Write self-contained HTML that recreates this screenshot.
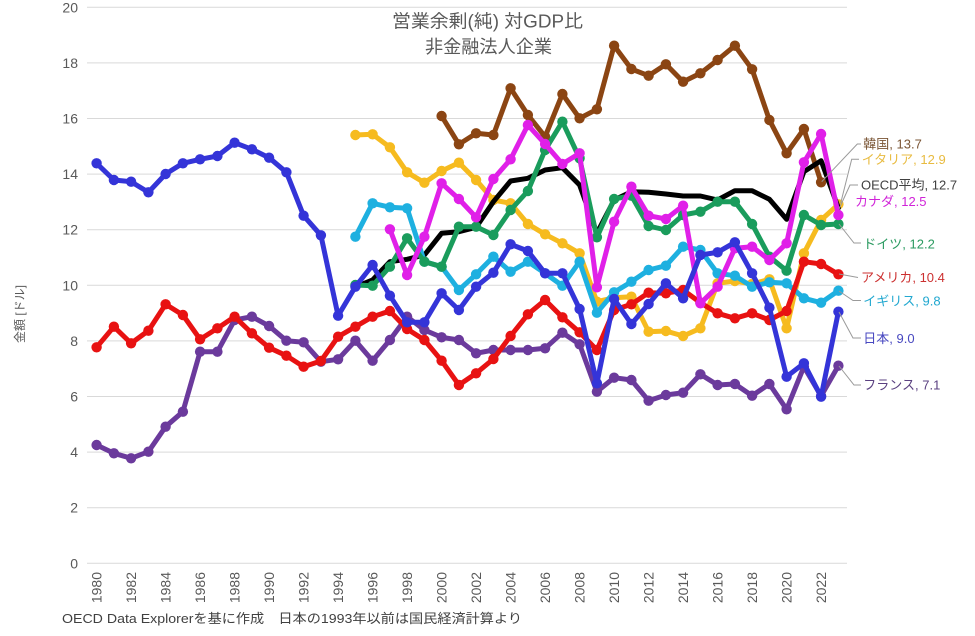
<!DOCTYPE html>
<html><head><meta charset="utf-8">
<style>
html,body{margin:0;padding:0;background:#fff;}
svg{display:block;}
text{font-family:"Liberation Sans","Noto Sans CJK JP",sans-serif;}
</style></head>
<body>
<svg width="975" height="636" viewBox="0 0 975 636" xmlns="http://www.w3.org/2000/svg">
<defs>
<marker id="mJ" markerWidth="12" markerHeight="12" refX="6" refY="6" markerUnits="userSpaceOnUse"><circle cx="6" cy="6" r="5.2" fill="#3434d8"/></marker>
<marker id="mU" markerWidth="12" markerHeight="12" refX="6" refY="6" markerUnits="userSpaceOnUse"><circle cx="6" cy="6" r="5.2" fill="#e81212"/></marker>
<marker id="mF" markerWidth="12" markerHeight="12" refX="6" refY="6" markerUnits="userSpaceOnUse"><circle cx="6" cy="6" r="5.2" fill="#6b3a9c"/></marker>
<marker id="mK" markerWidth="12" markerHeight="12" refX="6" refY="6" markerUnits="userSpaceOnUse"><circle cx="6" cy="6" r="5.2" fill="#8b4513"/></marker>
<marker id="mI" markerWidth="12" markerHeight="12" refX="6" refY="6" markerUnits="userSpaceOnUse"><circle cx="6" cy="6" r="5.2" fill="#f6bb1f"/></marker>
<marker id="mC" markerWidth="12" markerHeight="12" refX="6" refY="6" markerUnits="userSpaceOnUse"><circle cx="6" cy="6" r="5.2" fill="#e020e8"/></marker>
<marker id="mB" markerWidth="12" markerHeight="12" refX="6" refY="6" markerUnits="userSpaceOnUse"><circle cx="6" cy="6" r="5.2" fill="#1eb0e0"/></marker>
<marker id="mG" markerWidth="12" markerHeight="12" refX="6" refY="6" markerUnits="userSpaceOnUse"><circle cx="6" cy="6" r="5.2" fill="#1a9c5c"/></marker>
</defs>
<rect x="0" y="0" width="975" height="636" fill="#fff"/>

<!-- gridlines -->
<g stroke="#d9d9d9" stroke-width="1">
<line x1="87" y1="7.3" x2="847" y2="7.3"/>
<line x1="87" y1="62.9" x2="847" y2="62.9"/>
<line x1="87" y1="118.5" x2="847" y2="118.5"/>
<line x1="87" y1="174.1" x2="847" y2="174.1"/>
<line x1="87" y1="229.7" x2="847" y2="229.7"/>
<line x1="87" y1="285.3" x2="847" y2="285.3"/>
<line x1="87" y1="340.9" x2="847" y2="340.9"/>
<line x1="87" y1="396.5" x2="847" y2="396.5"/>
<line x1="87" y1="452.1" x2="847" y2="452.1"/>
<line x1="87" y1="507.7" x2="847" y2="507.7"/>
<line x1="87" y1="563.3" x2="847" y2="563.3"/>
</g>

<!-- y labels -->
<g font-size="14" fill="#595959" text-anchor="end">
<text x="78" y="12.3">20</text>
<text x="78" y="67.9">18</text>
<text x="78" y="123.5">16</text>
<text x="78" y="179.1">14</text>
<text x="78" y="234.7">12</text>
<text x="78" y="290.3">10</text>
<text x="78" y="345.9">8</text>
<text x="78" y="401.5">6</text>
<text x="78" y="457.1">4</text>
<text x="78" y="512.7">2</text>
<text x="78" y="568.3">0</text>
</g>
<text transform="translate(24,314) rotate(-90)" text-anchor="middle" font-size="12" fill="#595959">金額 [ドル]</text>

<!-- x labels -->
<g font-size="14" fill="#595959" text-anchor="end">
<text transform="translate(101.6,572) rotate(-90)">1980</text>
<text transform="translate(136.1,572) rotate(-90)">1982</text>
<text transform="translate(170.6,572) rotate(-90)">1984</text>
<text transform="translate(205.1,572) rotate(-90)">1986</text>
<text transform="translate(239.6,572) rotate(-90)">1988</text>
<text transform="translate(274.1,572) rotate(-90)">1990</text>
<text transform="translate(308.6,572) rotate(-90)">1992</text>
<text transform="translate(343.1,572) rotate(-90)">1994</text>
<text transform="translate(377.6,572) rotate(-90)">1996</text>
<text transform="translate(412.1,572) rotate(-90)">1998</text>
<text transform="translate(446.6,572) rotate(-90)">2000</text>
<text transform="translate(481.1,572) rotate(-90)">2002</text>
<text transform="translate(515.6,572) rotate(-90)">2004</text>
<text transform="translate(550.1,572) rotate(-90)">2006</text>
<text transform="translate(584.6,572) rotate(-90)">2008</text>
<text transform="translate(619.1,572) rotate(-90)">2010</text>
<text transform="translate(653.6,572) rotate(-90)">2012</text>
<text transform="translate(688.1,572) rotate(-90)">2014</text>
<text transform="translate(722.6,572) rotate(-90)">2016</text>
<text transform="translate(757.1,572) rotate(-90)">2018</text>
<text transform="translate(791.6,572) rotate(-90)">2020</text>
<text transform="translate(826.1,572) rotate(-90)">2022</text>
</g>

<!-- title -->
<text x="392" y="27.5" font-size="18" fill="#595959" textLength="191" lengthAdjust="spacingAndGlyphs">営業余剰(純) 対GDP比</text>
<text x="425" y="53" font-size="18" fill="#595959" textLength="127" lengthAdjust="spacingAndGlyphs">非金融法人企業</text>

<!-- footer -->
<text x="62" y="623" font-size="13" fill="#404040" textLength="460" lengthAdjust="spacingAndGlyphs">OECD Data Explorerを基に作成　日本の1993年以前は国民経済計算より</text>

<g fill="none" stroke-width="5" stroke-linejoin="round" stroke-linecap="round">
<!-- Korea -->
<polyline stroke="#8b4513" marker-start="url(#mK)" marker-mid="url(#mK)" marker-end="url(#mK)" points="441.6,116 458.9,144.3 476.1,133.3 493.4,135 510.6,88.3 527.9,115 545.1,136.7 562.4,94 579.6,118.3 596.9,109.3 614.1,45.7 631.4,69 648.6,75.7 665.9,64.3 683.1,81.7 700.4,73.3 717.6,60 734.9,45.7 752.1,69.3 769.4,120 786.6,153.3 803.9,129 821.1,182.3"/>
<!-- Italy -->
<polyline stroke="#f6bb1f" marker-start="url(#mI)" marker-mid="url(#mI)" marker-end="url(#mI)" points="355.4,135 372.6,134.3 389.9,147.3 407.1,172.3 424.4,182.7 441.6,171 458.9,162.7 476.1,180 493.4,200 510.6,203.3 527.9,224 545.1,234.3 562.4,243.3 579.6,253.3 596.9,301.7 614.1,297.7 631.4,296.7 648.6,331.7 665.9,331 683.1,336 700.4,328.3 717.6,283.3 734.9,281 752.1,284 769.4,279.3 786.6,328.3 803.9,253.3 821.1,220 838.4,204.3"/>
<!-- OECD -->
<polyline stroke="#000" points="355.4,287 372.6,280 389.9,261.7 407.1,259.3 424.4,255 441.6,233.3 458.9,231.7 476.1,227.3 493.4,201.7 510.6,181 527.9,178.3 545.1,170 562.4,167.7 579.6,185 596.9,233.3 614.1,200 631.4,191.7 648.6,192.3 665.9,194 683.1,196 700.4,196 717.6,200 734.9,190.7 752.1,190.7 769.4,199.3 786.6,219.3 803.9,171.7 821.1,160.7 838.4,208"/>
<!-- UK -->
<polyline stroke="#1eb0e0" marker-start="url(#mB)" marker-mid="url(#mB)" marker-end="url(#mB)" points="355.4,236.7 372.6,203.3 389.9,207.3 407.1,208.3 424.4,261.7 441.6,266.7 458.9,290 476.1,274.3 493.4,256.7 510.6,271.7 527.9,261.7 545.1,273.3 562.4,285.7 579.6,261.7 596.9,312.7 614.1,292.3 631.4,281.7 648.6,270 665.9,265.7 683.1,246.7 700.4,250 717.6,273.3 734.9,275.7 752.1,286.7 769.4,282.3 786.6,283.3 803.9,298.3 821.1,302.7 838.4,290.7"/>
<!-- France -->
<polyline stroke="#6b3a9c" marker-start="url(#mF)" marker-mid="url(#mF)" marker-end="url(#mF)" points="96.6,445 113.9,453.3 131.1,458.3 148.4,451.7 165.6,426.7 182.9,411.7 200.1,351.7 217.4,351.7 234.6,320 251.9,316.7 269.1,326 286.4,340.7 303.6,342.3 320.9,361.7 338.1,359.3 355.4,340.7 372.6,360.7 389.9,340 407.1,316.7 424.4,330 441.6,337.3 458.9,340 476.1,353.3 493.4,350 510.6,350 527.9,350 545.1,348.3 562.4,332.7 579.6,344.3 596.9,391.7 614.1,377.7 631.4,380 648.6,400.7 665.9,395 683.1,392.7 700.4,374.3 717.6,385 734.9,384 752.1,395.7 769.4,384 786.6,409.3 803.9,366.7 821.1,396 838.4,365.7"/>
<!-- USA -->
<polyline stroke="#e81212" marker-start="url(#mU)" marker-mid="url(#mU)" marker-end="url(#mU)" points="96.6,347.3 113.9,326.7 131.1,343.3 148.4,330.7 165.6,304.3 182.9,315 200.1,339.3 217.4,328.3 234.6,316.7 251.9,333.3 269.1,347.7 286.4,355.7 303.6,366.7 320.9,361 338.1,336.7 355.4,326.7 372.6,316.7 389.9,311 407.1,329 424.4,340 441.6,360.7 458.9,385 476.1,373.3 493.4,359 510.6,336 527.9,314.3 545.1,300 562.4,317.3 579.6,332.3 596.9,350 614.1,310 631.4,304.3 648.6,292.7 665.9,293.3 683.1,290 700.4,302.7 717.6,313.3 734.9,318.3 752.1,313.3 769.4,320 786.6,311 803.9,261.7 821.1,264 838.4,274.3"/>
<!-- Germany -->
<polyline stroke="#1a9c5c" marker-start="url(#mG)" marker-mid="url(#mG)" marker-end="url(#mG)" points="355.4,285 372.6,285.7 389.9,266.7 407.1,238.3 424.4,261.7 441.6,266.7 458.9,226.7 476.1,226.7 493.4,235 510.6,210 527.9,191 545.1,150 562.4,121.7 579.6,158.3 596.9,237.3 614.1,199 631.4,195.7 648.6,226 665.9,230 683.1,215 700.4,211.7 717.6,201.7 734.9,201.7 752.1,224 769.4,256.7 786.6,270.7 803.9,215 821.1,225 838.4,224"/>
<!-- Canada -->
<polyline stroke="#e020e8" marker-start="url(#mC)" marker-mid="url(#mC)" marker-end="url(#mC)" points="389.9,229.3 407.1,275 424.4,236.7 441.6,183.3 458.9,199 476.1,217.3 493.4,179 510.6,159.3 527.9,125 545.1,144 562.4,164 579.6,153.3 596.9,287.3 614.1,221.7 631.4,186.7 648.6,215.7 665.9,219 683.1,205.7 700.4,303.3 717.6,286.7 734.9,248.3 752.1,246.7 769.4,260 786.6,243.3 803.9,162.3 821.1,134 838.4,215"/>
<!-- Japan -->
<polyline stroke="#3434d8" marker-start="url(#mJ)" marker-mid="url(#mJ)" marker-end="url(#mJ)" points="96.6,163.3 113.9,180 131.1,181.7 148.4,192.3 165.6,174 182.9,163.3 200.1,159.3 217.4,156 234.6,142.7 251.9,149.3 269.1,157.7 286.4,172.3 303.6,215.7 320.9,235.3 338.1,315.7 355.4,286.7 372.6,265 389.9,295.7 407.1,322.3 424.4,322.3 441.6,293.3 458.9,310 476.1,286.7 493.4,272.7 510.6,244.3 527.9,251 545.1,273.3 562.4,273.3 579.6,309 596.9,383.3 614.1,299 631.4,324 648.6,304 665.9,283.3 683.1,298.3 700.4,255 717.6,252.3 734.9,242.3 752.1,273.3 769.4,307.7 786.6,376.7 803.9,363.3 821.1,396.7 838.4,311.7"/>
</g>

<!-- leader lines -->
<g fill="none" stroke="#9a9a9a" stroke-width="1">
<polyline points="821.7,181.7 857.3,144 861,144"/>
<polyline points="840.7,203 851.7,159.3 859,159.3"/>
<polyline points="839,209 850,185 858,185"/>
<polyline points="839,224 854,243 861,243"/>
<polyline points="839,274 858,277.5"/>
<polyline points="839,291 853,300.5 861,300.5"/>
<polyline points="839,312 853,338 861,338"/>
<polyline points="839,366 854,385 861,385"/>
</g>

<!-- series labels -->
<g font-size="13">
<text x="863.3" y="148.5" fill="#7a5535">韓国, 13.7</text>
<text x="861.7" y="163.8" fill="#e8bb40">イタリア, 12.9</text>
<text x="861" y="189.5" fill="#404040">OECD平均, 12.7</text>
<text x="855" y="206.2" fill="#d024d8">カナダ, 12.5</text>
<text x="863.3" y="248.5" fill="#2a9a60">ドイツ, 12.2</text>
<text x="861" y="282.2" fill="#cc3030">アメリカ, 10.4</text>
<text x="863.3" y="305.5" fill="#22a8d0">イギリス, 9.8</text>
<text x="863.3" y="342.8" fill="#4848c0">日本, 9.0</text>
<text x="863.3" y="389.5" fill="#5a4080">フランス, 7.1</text>
</g>
</svg>
</body></html>
